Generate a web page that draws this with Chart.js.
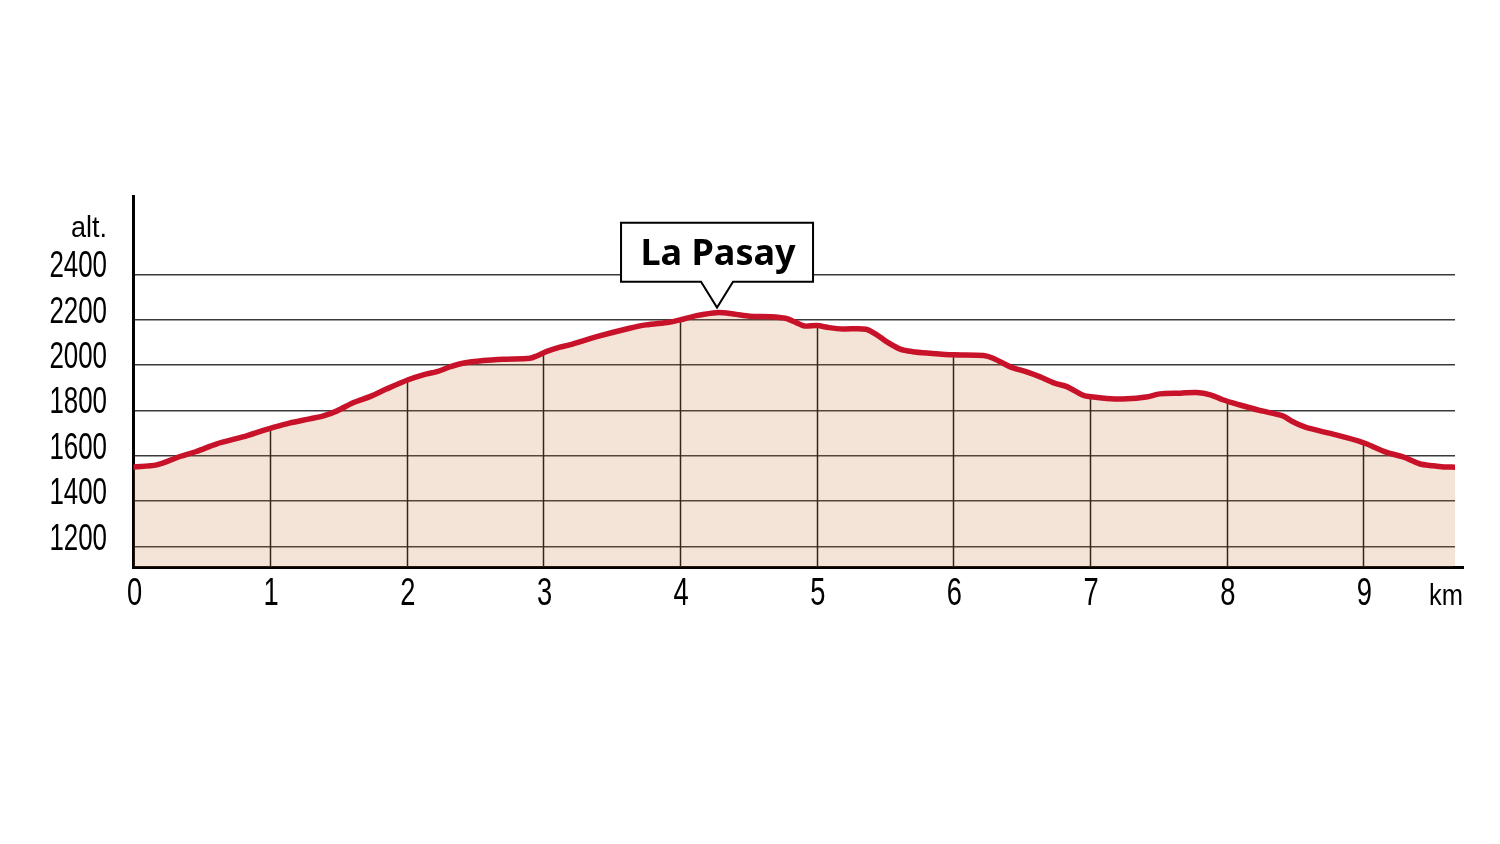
<!DOCTYPE html>
<html>
<head>
<meta charset="utf-8">
<script src="https://cdn.jsdelivr.net/npm/chart.js@4.4.1/dist/chart.umd.min.js"></script>
<style>
  html, body { margin: 0; padding: 0; background: #fff; }
  #wrap { width: 1500px; height: 844px; }
</style>
</head>
<body>
<div id="wrap"><canvas id="profile"></canvas></div>
<script>
// Elevation profile
const distanceKm = [
  0, 0.17, 0.34, 0.46, 0.61, 0.80, 0.95, 1.00, 1.14, 1.29, 1.39, 1.49, 1.61, 1.73, 1.85,
  2.01, 2.12, 2.22, 2.32, 2.41, 2.56, 2.71, 2.90, 2.95, 3.02, 3.12, 3.19, 3.39, 3.63, 3.75,
  3.92, 4.00, 4.12, 4.27, 4.39, 4.51, 4.66, 4.77, 4.85, 4.91, 5.00, 5.09, 5.19, 5.36, 5.44,
  5.51, 5.61, 5.70, 5.83, 6.00, 6.22, 6.29, 6.42, 6.53, 6.63, 6.74, 6.83, 6.94, 6.99, 7.12,
  7.27, 7.41, 7.51, 7.66, 7.78, 7.88, 7.97, 8.09, 8.24, 8.41, 8.48, 8.58, 8.75, 8.96, 9.02,
  9.17, 9.29, 9.41, 9.51, 9.59, 9.67
]
const altitudeM = [
  1551, 1560, 1597, 1619, 1653, 1683, 1712, 1721, 1744, 1763, 1776, 1798, 1835, 1861, 1894,
  1935, 1957, 1971, 1993, 2008, 2020, 2026, 2030, 2040, 2059, 2079, 2089, 2125, 2162, 2177,
  2189, 2199, 2218, 2231, 2225, 2215, 2213, 2206, 2187, 2172, 2174, 2165, 2159, 2158, 2133,
  2103, 2070, 2059, 2052, 2045, 2042, 2030, 1991, 1971, 1949, 1920, 1905, 1869, 1861, 1853,
  1851, 1859, 1873, 1876, 1879, 1869, 1847, 1825, 1800, 1776, 1751, 1725, 1700, 1666, 1653,
  1615, 1595, 1565, 1556, 1551, 1550
]
const kmTicks = [0, 1, 2, 3, 4, 5, 6, 7, 8, 9]
const altTicks = [1200, 1400, 1600, 1800, 2000, 2200, 2400]
const summitName = "La Pasay"
const yAxisTitle = "alt."
const xAxisTitle = "km"

const LINE_RED = "#c8122a"
const LABEL_FONT = "'Liberation Sans', Arial, sans-serif"

// linear interpolation of the profile at a given distance
function altitudeAt(km) {
  for (let i = 1; i < distanceKm.length; i++) {
    if (km <= distanceKm[i]) {
      const t = (km - distanceKm[i - 1]) / (distanceKm[i] - distanceKm[i - 1])
      return altitudeM[i - 1] + t * (altitudeM[i] - altitudeM[i - 1])
    }
  }
  return altitudeM[altitudeM.length - 1]
}

// condensed-looking text: squeeze a normal font horizontally
function narrowText(ctx, text, x, y, size, squeeze, align) {
  ctx.save()
  ctx.font = size + "px " + LABEL_FONT
  ctx.textBaseline = "alphabetic"
  ctx.textAlign = align
  ctx.translate(x, y)
  ctx.scale(squeeze, 1)
  ctx.fillText(text, 0, 0)
  ctx.restore()
}

// vertical km lines, only under the profile
const kmLinesPlugin = {
  id: "kmLines",
  beforeDatasetsDraw(chart) {
    const { ctx, scales: { x, y } } = chart
    ctx.save()
    ctx.strokeStyle = "#111"
    ctx.lineWidth = 1.5
    kmTicks.forEach(km => {
      if (km === 0) return
      const px = Math.round(x.getPixelForValue(km)) + 0.5
      ctx.beginPath()
      ctx.moveTo(px, y.getPixelForValue(altitudeAt(km)))
      ctx.lineTo(px, y.bottom)
      ctx.stroke()
    })
    ctx.restore()
  }
}

// tick labels, axis titles, summit callout
const extrasPlugin = {
  id: "extras",
  afterDraw(chart) {
    const { ctx, chartArea, scales: { x, y } } = chart
    ctx.save()

    // x axis runs a little past the data
    ctx.strokeStyle = "#000"
    ctx.lineWidth = 3
    ctx.beginPath()
    ctx.moveTo(chartArea.right - 2, y.bottom + 0.5)
    ctx.lineTo(chartArea.right + 9, y.bottom + 0.5)
    ctx.stroke()

    ctx.fillStyle = "#000"
    y.ticks.forEach(t => {
      narrowText(ctx, String(t.value), 107, y.getPixelForValue(t.value) + 3, 37, 0.7, "right")
    })
    x.ticks.forEach(t => {
      narrowText(ctx, String(t.value), x.getPixelForValue(t.value) + 1, 605, 39, 0.7, "center")
    })
    narrowText(ctx, yAxisTitle, 107, 237, 30, 0.9, "right")
    narrowText(ctx, xAxisTitle, chartArea.right + 8, 605, 30, 0.85, "right")

    // callout pointing at the highest point
    const peak = altitudeM.indexOf(Math.max(...altitudeM))
    const tipX = x.getPixelForValue(distanceKm[peak])
    const tipY = y.getPixelForValue(altitudeM[peak]) - 5
    const left = tipX - 96, right = tipX + 96
    const bottom = tipY - 26, top = bottom - 59
    ctx.beginPath()
    ctx.moveTo(left, top)
    ctx.lineTo(right, top)
    ctx.lineTo(right, bottom)
    ctx.lineTo(tipX + 16, bottom)
    ctx.lineTo(tipX, tipY)
    ctx.lineTo(tipX - 16, bottom)
    ctx.lineTo(left, bottom)
    ctx.closePath()
    ctx.fillStyle = "#fff"
    ctx.fill()
    ctx.lineWidth = 2
    ctx.strokeStyle = "#000"
    ctx.stroke()

    ctx.fillStyle = "#000"
    ctx.font = "bold 36px 'Noto Sans', sans-serif"
    ctx.textAlign = "center"
    ctx.textBaseline = "alphabetic"
    ctx.fillText(summitName, tipX + 1, bottom - 17)
    ctx.restore()
  }
}

new Chart(document.getElementById("profile"), {
  type: "line",
  data: {
    datasets: [{
      data: distanceKm.map((km, i) => ({ x: km, y: altitudeM[i] })),
      borderColor: LINE_RED,
      borderWidth: 5.5,
      backgroundColor: "rgba(200, 120, 55, 0.2)",
      fill: "start",
      pointRadius: 0,
      tension: 0.3,
      borderJoinStyle: "round",
      borderCapStyle: "round"
    }]
  },
  options: {
    responsive: true,
    maintainAspectRatio: false,
    animation: false,
    layout: { padding: { left: 0, right: 45, top: 196, bottom: 217 } },
    plugins: {
      legend: { display: false },
      tooltip: { enabled: false }
    },
    scales: {
      x: {
        type: "linear",
        min: 0,
        max: distanceKm[distanceKm.length - 1],
        afterBuildTicks: axis => { axis.ticks = kmTicks.map(v => ({ value: v })) },
        afterFit: axis => { axis.height = 60 },
        grid: { display: false, drawTicks: false },
        border: { display: true, color: "#000", width: 3 },
        ticks: { display: false }
      },
      y: {
        min: 1110,
        max: 2745,
        afterBuildTicks: axis => { axis.ticks = altTicks.map(v => ({ value: v })) },
        afterFit: axis => { axis.width = 133.5 },
        grid: { color: "#3a3a3a", lineWidth: 1.4, drawTicks: false },
        border: { display: true, color: "#000", width: 3 },
        ticks: { display: false }
      }
    }
  },
  plugins: [kmLinesPlugin, extrasPlugin]
})
</script>
</body>
</html>
